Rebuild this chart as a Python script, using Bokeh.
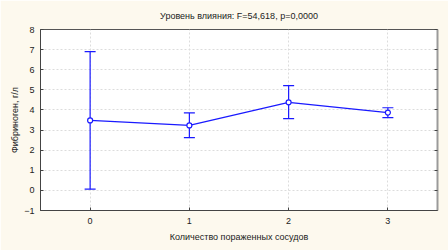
from bokeh.plotting import figure
from bokeh.models import ColumnDataSource, Whisker, TeeHead, LinearAxis, BoxAnnotation, FixedTicker
from bokeh.embed import file_html
from bokeh.resources import INLINE

groups = [0, 1, 2, 3]
means = [3.48, 3.23, 4.38, 3.87]
upper = [6.90, 3.85, 5.21, 4.11]
lower = [0.06, 2.62, 3.57, 3.62]
title_text = "Уровень влияния: F=54,618, p=0,0000"
x_label = "Количество пораженных сосудов"
y_label = "Фибриноген, г/л"
y_ticks = [-1, 0, 1, 2, 3, 4, 5, 6, 7, 8]

FONT = "Liberation Sans"
BG = "#fdf9ee"
BLUE = "#1a1aff"

src = ColumnDataSource(dict(x=groups, y=means, up=upper, lo=lower))

p = figure(width=448, height=250, output_backend="svg", toolbar_location=None,
           x_range=(-0.5, 3.5), y_range=(-1, 8), title=title_text,
           min_border_left=40, min_border_right=11, min_border_top=29, min_border_bottom=40)
p.border_fill_color = BG
p.background_fill_color = "white"
p.outline_line_color = "#555555"
p.outline_line_width = 1

p.title.align = "center"
p.title.vertical_align = "top"
p.title.offset = -14
p.title.standoff = 14
p.title.text_font = FONT
p.title.text_font_size = "9px"
p.title.text_font_style = "normal"
p.title.text_color = "#222222"

for ax in (p.xaxis[0], p.yaxis[0]):
    ax.axis_line_color = "#444444"
    ax.major_tick_line_color = "#444444"
    ax.minor_tick_line_color = None
    ax.major_tick_in = 3
    ax.major_tick_out = 0
    ax.major_label_text_font = FONT
    ax.major_label_text_font_size = "9px"
    ax.major_label_text_color = "#222222"
    ax.axis_label_text_font = FONT
    ax.axis_label_text_font_size = "9px"
    ax.axis_label_text_font_style = "normal"
    ax.axis_label_text_color = "#222222"

p.xaxis.ticker = FixedTicker(ticks=groups)
p.yaxis.ticker = FixedTicker(ticks=y_ticks)
p.xaxis.axis_label = x_label
p.yaxis.axis_label = y_label
p.xaxis.major_label_standoff = 7
p.xaxis.axis_label_standoff = 5
p.yaxis.major_label_standoff = 6
p.yaxis.axis_label_standoff = 1

right = LinearAxis(ticker=FixedTicker(ticks=y_ticks),
                   major_label_overrides={t: "" for t in y_ticks},
                   axis_line_color="#9a9a9a", axis_line_width=2,
                   major_tick_line_color="#444444", major_tick_in=3, major_tick_out=0,
                   minor_tick_line_color=None)
p.add_layout(right, "right")

p.grid.grid_line_color = "#dcdcdc"
p.grid.grid_line_dash = "2 2"
p.xgrid.ticker = FixedTicker(ticks=groups)
p.ygrid.ticker = FixedTicker(ticks=y_ticks)

p.add_layout(Whisker(source=src, base="x", upper="up", lower="lo", line_color=BLUE, line_width=1.2,
                     upper_head=TeeHead(size=11, line_color=BLUE, line_width=1.2),
                     lower_head=TeeHead(size=11, line_color=BLUE, line_width=1.2)))
p.line("x", "y", source=src, line_color=BLUE, line_width=1.2)
p.scatter("x", "y", source=src, size=5, fill_color="white", line_color=BLUE, line_width=1.2)

p.add_layout(BoxAnnotation(left=2, right=446, top=2, bottom=248,
                           left_units="canvas", right_units="canvas", top_units="canvas", bottom_units="canvas",
                           fill_alpha=0, line_color="#a8a8a8", line_width=1))

open("out.html", "w").write(file_html(p, INLINE))
